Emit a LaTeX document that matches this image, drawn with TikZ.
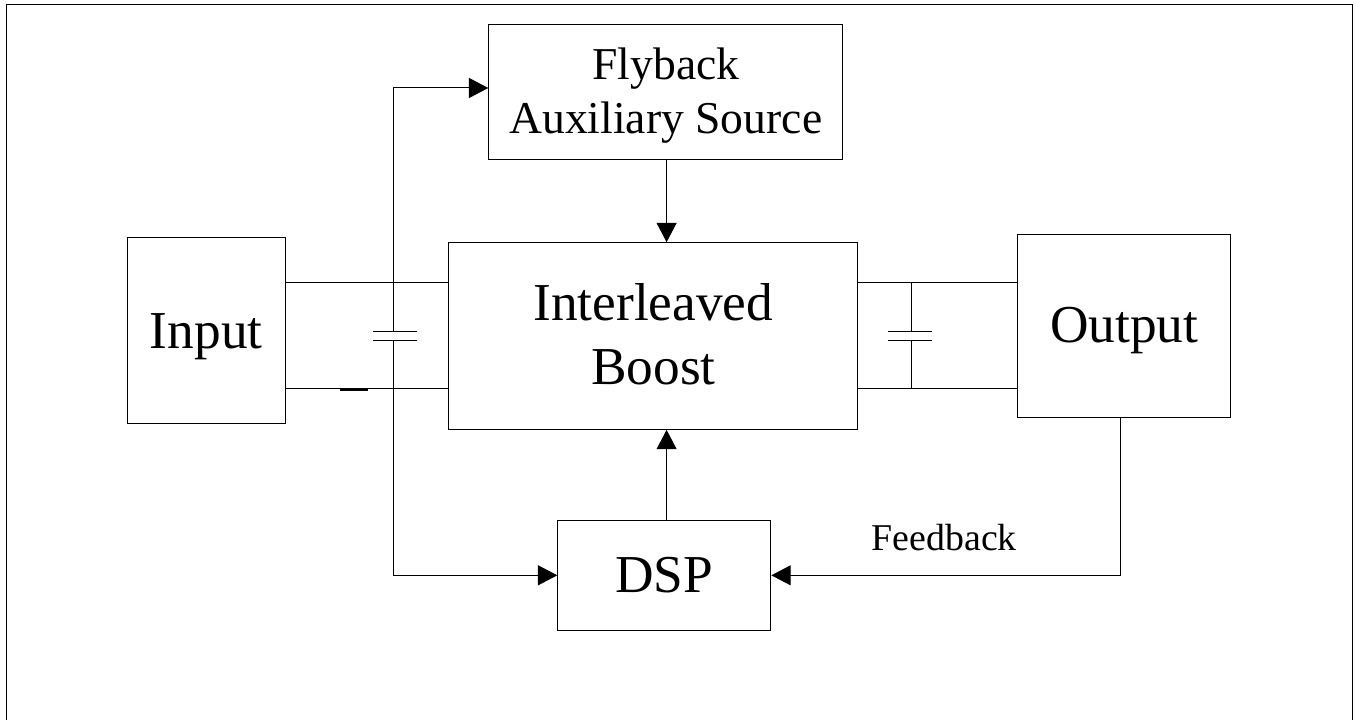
\documentclass[tikz,border=0pt]{standalone}
\usepackage{fontspec}
\setmainfont{Liberation Serif}
\usetikzlibrary{arrows.meta,calc}
\newcommand{\twolines}[3]{\raisebox{0pt}[\dimexpr\height+#1\relax][\depth]{\begin{tabular}{@{}c@{}}#2\\#3\end{tabular}}}
\tikzset{
  px/.style={x=0.75pt,y=-0.75pt},
  wire/.style={line width=0.75pt,black},
  arrowwire/.style={wire,-{Triangle[length=14.5pt,width=15pt]}},
  blockbox/.style={draw=black,line width=0.8pt,inner sep=0pt,anchor=north west},
  big/.style={font=\fontsize{40}{48}\selectfont},
  mid/.style={font=\fontsize{34.2}{40.5}\selectfont},
}
\begin{document}
\begin{tikzpicture}[px]
\useasboundingbox (0,0) rectangle (1356,720);
\fill[white] (0,0) rectangle (1356,720);
% outer frame (open at the bottom)
\draw[wire] (6.5,720) -- (6.5,5) -- (1352.5,5) -- (1352.5,720);
% blocks
\node[blockbox,mid,minimum width=354*0.75pt,minimum height=134.7*0.75pt] (fly) at (488.3,24.3) {\twolines{4.8pt}{Flyback}{Auxiliary Source}};
\node[blockbox,big,minimum width=409*0.75pt,minimum height=186.6*0.75pt] (ib) at (448.3,242.2) {\twolines{5.6pt}{Interleaved}{Boost}};
\node[blockbox,big,minimum width=158*0.75pt,minimum height=186.6*0.75pt,text height=36.25pt,text depth=10pt] (in) at (126.7,236.7) {Input};
\node[blockbox,big,minimum width=212.7*0.75pt,minimum height=183.3*0.75pt,text height=34pt,text depth=10pt] (out) at (1017.3,234) {Output};
\node[blockbox,big,minimum width=213*0.75pt,minimum height=109.4*0.75pt,text height=34.8pt,text depth=10pt] (dsp) at (557.3,520.3) {DSP};
\node[font=\fontsize{28.4}{34}\selectfont,inner sep=0pt,anchor=base] (fb) at (944.3,550) {Feedback};
% wire coordinates
\coordinate (capAt) at (393.7,331.3); \coordinate (capAb) at (393.7,340);
\coordinate (capBt) at (911,331.3); \coordinate (capBb) at (911,340);
\coordinate (capBu) at (911,282.5); \coordinate (capBd) at (911,388.7);
\coordinate (upCorner) at (393.7,88);
\coordinate (lowCorner) at (393.7,575.3);
\coordinate (capAl) at (373,331.3); \coordinate (capAr) at (417,331.3);
\coordinate (capAl2) at (373,340); \coordinate (capAr2) at (417,340);
\coordinate (capBl) at (888,331.3); \coordinate (capBr) at (932,331.3);
\coordinate (capBl2) at (888,340); \coordinate (capBr2) at (932,340);
\coordinate (dashL) at (340,389.7); \coordinate (dashR) at (367.6,389.7);
% wires
\draw[wire] (in.east |- 0,282.5) -- (ib.west |- 0,282.5);
\draw[wire] (in.east |- 0,388.7) -- (ib.west |- 0,388.7);
\draw[wire] (ib.east |- 0,282.5) -- (out.west |- 0,282.5);
\draw[wire] (ib.east |- 0,388.7) -- (out.west |- 0,388.7);
\draw[wire] (capBu) -- (capBt);
\draw[wire] (capBb) -- (capBd);
\draw[wire] (capAl) -- (capAr);
\draw[wire] (capAl2) -- (capAr2);
\draw[wire] (capBl) -- (capBr);
\draw[wire] (capBl2) -- (capBr2);
\draw[line width=1.6pt] (dashL) -- (dashR);
\draw[arrowwire] (capAt) -- (upCorner) -- (fly.west |- upCorner);
\draw[arrowwire] (capAb) -- (lowCorner) -- (dsp.west |- lowCorner);
\draw[arrowwire] (out.south -| 1120.8,0) -- (1120.8,575.3) -- (dsp.east |- lowCorner);
\draw[arrowwire] (fly.south -| 666.6,0) -- (ib.north -| 666.6,0);
\draw[arrowwire] (dsp.north -| 666.6,0) -- (ib.south -| 666.6,0);
\end{tikzpicture}
\end{document}
